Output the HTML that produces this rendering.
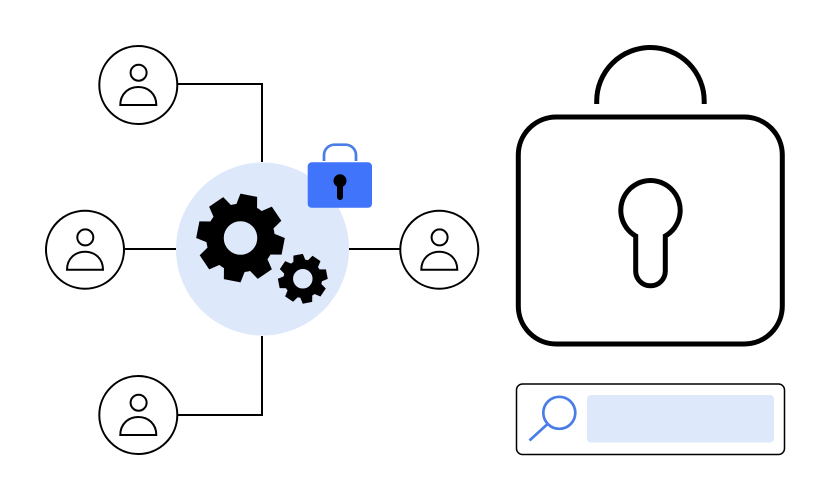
<!DOCTYPE html>
<html><head><meta charset="utf-8"><style>html,body{margin:0;padding:0;background:#fff}svg{display:block}</style></head>
<body>
<svg width="830" height="500" viewBox="0 0 830 500" xmlns="http://www.w3.org/2000/svg">
<defs>
<g id="user"><circle r="39" fill="#fff" stroke="#000" stroke-width="2"/><circle cx="0.300" cy="-12.300" r="8" fill="none" stroke="#000" stroke-width="2"/><path d="M-18 20 C-18 9 -10 2 0 2 C10 2 18 9 18 20 Z" fill="none" stroke="#000" stroke-width="2"/></g>
<polygon id="t1" points="-11,-30 -8.500,-43.500 8.500,-43.500 11,-30"/>
<polygon id="t2" points="-6.500,-16 -4.800,-24.500 4.800,-24.500 6.500,-16"/>
</defs>
<g fill="none" stroke="#000" stroke-width="2">
<path d="M178 84H262V162"/><path d="M125 249H176"/><path d="M349 249H400"/><path d="M262 336V415H178"/>
</g>
<circle cx="262.500" cy="249" r="86.500" fill="#dde8fa"/>
<use href="#user" x="138.300" y="85"/><use href="#user" x="85" y="249.700"/><use href="#user" x="439.300" y="249.700"/><use href="#user" x="138.300" y="415"/>
<g transform="translate(240.500 238)" fill="#000">
<circle r="25.500" fill="none" stroke="#000" stroke-width="17.500"/>
<use href="#t1" transform="rotate(11)"/><use href="#t1" transform="rotate(56)"/><use href="#t1" transform="rotate(101)"/><use href="#t1" transform="rotate(146)"/><use href="#t1" transform="rotate(191)"/><use href="#t1" transform="rotate(236)"/><use href="#t1" transform="rotate(281)"/><use href="#t1" transform="rotate(326)"/>
</g>
<g transform="translate(302.800 278.800)" fill="#000">
<circle r="14.500" fill="none" stroke="#000" stroke-width="9.500"/>
<use href="#t2" transform="rotate(-11)"/><use href="#t2" transform="rotate(34)"/><use href="#t2" transform="rotate(79)"/><use href="#t2" transform="rotate(124)"/><use href="#t2" transform="rotate(169)"/><use href="#t2" transform="rotate(214)"/><use href="#t2" transform="rotate(259)"/><use href="#t2" transform="rotate(304)"/>
</g>
<path d="M324 161V155A10.500 10.500 0 0 1 334.500 144.700H345.500A10.500 10.500 0 0 1 356 155V161" fill="none" stroke="#4a7de8" stroke-width="2.700"/>
<rect x="307.700" y="162.300" width="64.300" height="45.500" rx="4" fill="#3f74fb"/>
<circle cx="340" cy="180.800" r="6.500" fill="#000"/>
<path d="M340 184V197" stroke="#000" stroke-width="6" stroke-linecap="round"/>
<path d="M596.700 104V101A53.750 53.500 0 0 1 704.200 101V104" fill="none" stroke="#000" stroke-width="5"/>
<rect x="518.300" y="117" width="264" height="227" rx="38" fill="#fff" stroke="#000" stroke-width="5"/>
<path d="M635.700 236A29.700 29.700 0 1 1 665.300 236V271A14.800 14.800 0 0 1 635.700 271Z" fill="none" stroke="#000" stroke-width="5"/>
<rect x="516.500" y="384" width="268" height="70.500" rx="6" fill="#fff" stroke="#000" stroke-width="1.500"/>
<rect x="587" y="395" width="187" height="47.500" rx="4" fill="#dde8fa"/>
<circle cx="559.300" cy="412.800" r="16" fill="#fff" stroke="#4a7de8" stroke-width="2.700"/>
<path d="M547 424.500L529.500 440.500" stroke="#4a7de8" stroke-width="2.700"/>
</svg>
</body></html>
